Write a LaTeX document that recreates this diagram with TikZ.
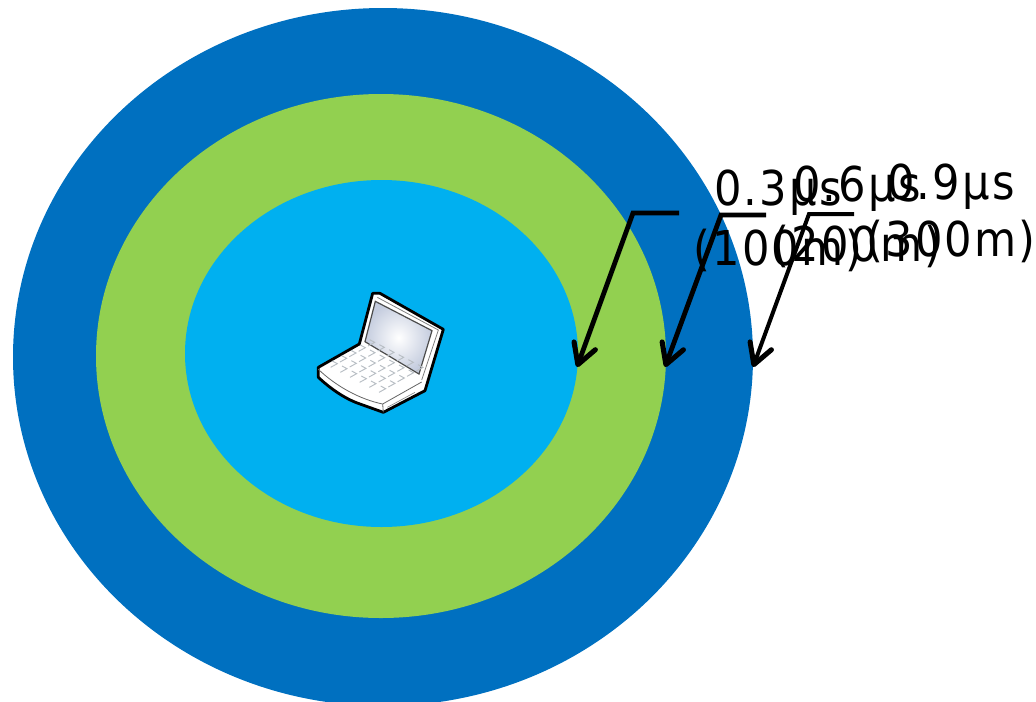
\documentclass[tikz,border=0pt]{standalone}
\usepackage{fontspec}
\setmainfont{DejaVu Sans}
\newfontfamily\lblfont[FakeStretch=0.9,LetterSpace=4.5]{DejaVu Sans}
\usetikzlibrary{arrows.meta,shapes.geometric}
\definecolor{ringblue}{HTML}{0070C0}
\definecolor{ringgreen}{HTML}{92D050}
\definecolor{ringcyan}{HTML}{00B0F0}
\definecolor{screenedge}{HTML}{C4CCDE}
\definecolor{keygray}{HTML}{B8BEC4}
\tikzset{
  ring/.style={ellipse,inner sep=0pt,outer sep=0pt,draw=none},
  lbl/.style={inner sep=0pt,outer sep=0pt,anchor=base,font=\lblfont\fontsize{36}{36}\selectfont},
  pointer/.style={line width=3.6pt,line join=miter,-{Straight Barb[length=15pt,width=17pt,line width=3.8pt,round]}},
  lapline/.style={draw=black,line width=2.1pt,line join=round},
}
\begin{document}
\begin{tikzpicture}[x=0.75pt,y=-0.75pt]
\useasboundingbox (0,0) rectangle (1036,701);
\clip (0,0) rectangle (1036,701);
\node[ring,fill=ringblue,minimum width=555pt,minimum height=523.5pt] (outer) at (383,357) {};
\node[ring,fill=ringgreen,minimum width=427.5pt,minimum height=393pt] (middle) at (381,356) {};
\node[ring,fill=ringcyan,minimum width=294.75pt,minimum height=260.25pt] (inner) at (381.5,353.5) {};

% laptop
\begin{scope}[shift={(300,280)},x=0.25pt,y=-0.25pt]
  \path[fill=white,lapline] (218,40) -- (240,40) -- (430,148) -- (375,332) -- (250,397) -- (180,372) .. controls (130,355) and (85,320) .. (55,292) -- (55,262) -- (178,192) -- cycle;
  \path[draw=black!50,line width=0.6pt] (232,52) -- (415,150) -- (365,300);
  \path[draw=black!70,line width=0.9pt,inner color=white,outer color=screenedge,shade] (226,64) -- (396,152) -- (357,282) -- (195,185) -- cycle;
  \path[draw=black!60,line width=0.6pt] (55,268) .. controls (110,320) and (180,358) .. (248,372) -- (365,306);
  \path[draw=black!60,line width=0.6pt] (248,372) -- (250,397);
  \path[draw=black!45,line width=0.5pt] (262,382) -- (345,337);
  \foreach \i in {0,...,4}
    \foreach \j in {0,...,5}
      \path[draw=keygray,line width=0.7pt]
        ({92+\i*28+\j*29},{262-\i*16+\j*15}) -- ++(20,-11) -- ++(-15,-8);
\end{scope}

% pointers
\coordinate (bar1) at (679,213);
\coordinate (elbow1) at (633,213);
\coordinate (tip1) at (577,367);
\coordinate (bar2) at (766,215);
\coordinate (elbow2) at (721,215);
\coordinate (tip2) at (665,367);
\coordinate (bar3) at (854,214);
\coordinate (elbow3) at (809,214);
\coordinate (tip3) at (753,367);
\draw[pointer] (bar1) -- (elbow1) -- (tip1);
\draw[pointer] (bar2) -- (elbow2) -- (tip2);
\draw[pointer,line width=3pt] (bar3) -- (elbow3) -- (tip3);

% labels
\node[lbl] (a1) at (778,205) {0.3μs};
\node[lbl] (a2) at (778,265) {(100m)};
\node[lbl] (b1) at (857,201) {0.6μs};
\node[lbl] (b2) at (857,261) {(200m)};
\node[lbl] (c1) at (951,199) {0.9μs};
\node[lbl] (c2) at (951,256) {(300m)};
\end{tikzpicture}
\end{document}
